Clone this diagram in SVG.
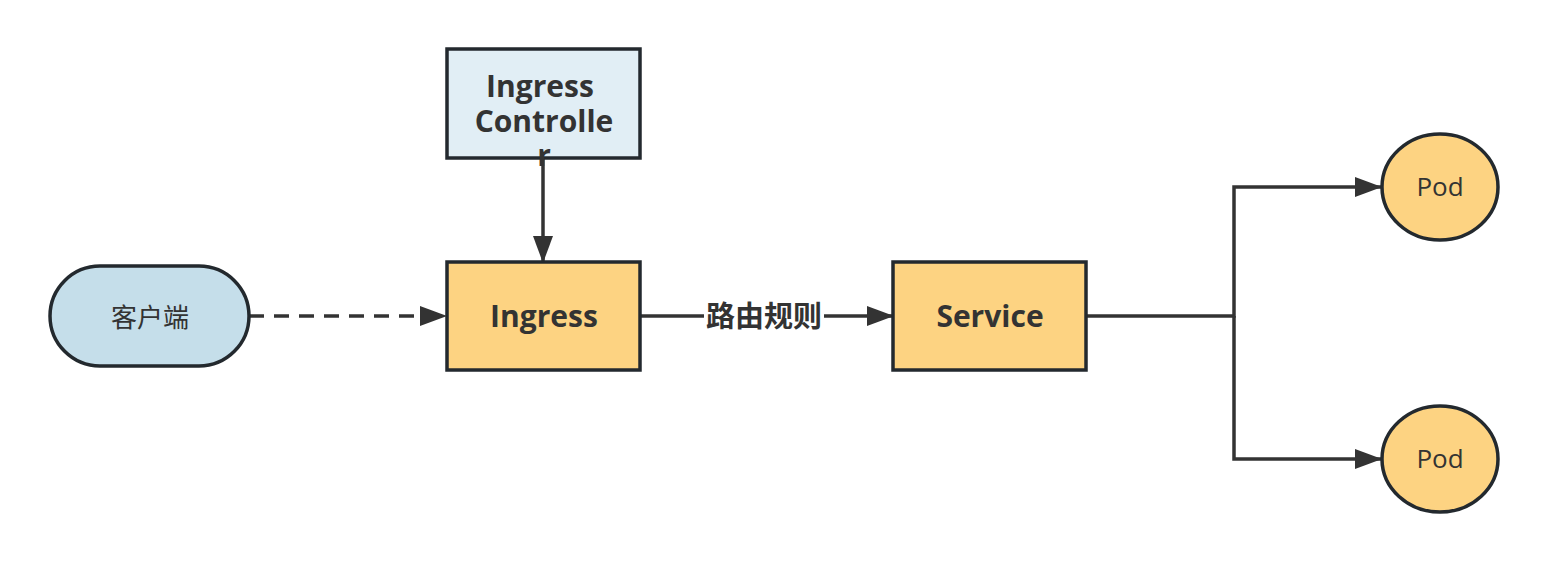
<svg xmlns="http://www.w3.org/2000/svg" width="1548" height="562" viewBox="0 0 1548 562">
<style>
.box{stroke:#23292e;stroke-width:3.5}
.blue{fill:#e1eef5}
.cli{fill:#c5deea}
.yel{fill:#fdd382}
.ln{fill:none;stroke:#333;stroke-width:3.5}
.bt{font-family:"Open Sans","Noto Sans",sans-serif;font-weight:bold;font-size:30px;fill:#333;text-anchor:middle}
.nt{font-family:"Open Sans","Noto Sans","Noto Sans CJK SC",sans-serif;font-size:26px;fill:#333;text-anchor:middle}
.lb{font-family:"Noto Sans CJK SC",sans-serif;font-weight:bold;font-size:29px;fill:#333;text-anchor:middle}
</style>
<defs>
<marker id="ah" markerUnits="userSpaceOnUse" markerWidth="28" markerHeight="22" refX="27" refY="10" orient="auto">
<path d="M0,0 L27,10 L0,20 Z" fill="#333"/>
</marker>
</defs>
<rect width="1548" height="562" fill="#fff"/>
<g id="connectors">
<line class="ln" x1="249" y1="316" x2="447" y2="316" stroke-dasharray="15,10" marker-end="url(#ah)"/>
<line class="ln" x1="543" y1="158" x2="543" y2="263" marker-end="url(#ah)"/>
<line class="ln" x1="640" y1="316" x2="894" y2="316" marker-end="url(#ah)"/>
<rect x="704" y="298" width="120" height="36" fill="#fff"/>
<text class="lb" x="764" y="327">路由规则</text>
<polyline class="ln" points="1086,316 1234,316 1234,187 1382,187" marker-end="url(#ah)"/>
<polyline class="ln" points="1234,316 1234,459 1382,459" marker-end="url(#ah)"/>
</g>
<g id="controller">
<rect class="box blue" x="447" y="49" width="193" height="109"/>
<text class="bt" x="540" y="97">Ingress</text>
<text class="bt" x="544" y="132">Controlle</text>
<text class="bt" x="544" y="166">r</text>
</g>
<g id="client">
<rect class="box cli" x="50" y="266" width="199" height="100" rx="50" ry="50"/>
<text class="nt" x="150" y="327" font-size="24">客户端</text>
</g>
<g id="ingress">
<rect class="box yel" x="447" y="262" width="193" height="108"/>
<text class="bt" x="544" y="327">Ingress</text>
</g>
<g id="service">
<rect class="box yel" x="893" y="262" width="193" height="108"/>
<text class="bt" x="990" y="327">Service</text>
</g>
<g id="pod1">
<ellipse class="box yel" cx="1440" cy="187" rx="58" ry="53"/>
<text class="nt" x="1440" y="196">Pod</text>
</g>
<g id="pod2">
<ellipse class="box yel" cx="1440" cy="459" rx="58" ry="53"/>
<text class="nt" x="1440" y="468">Pod</text>
</g>
</svg>
